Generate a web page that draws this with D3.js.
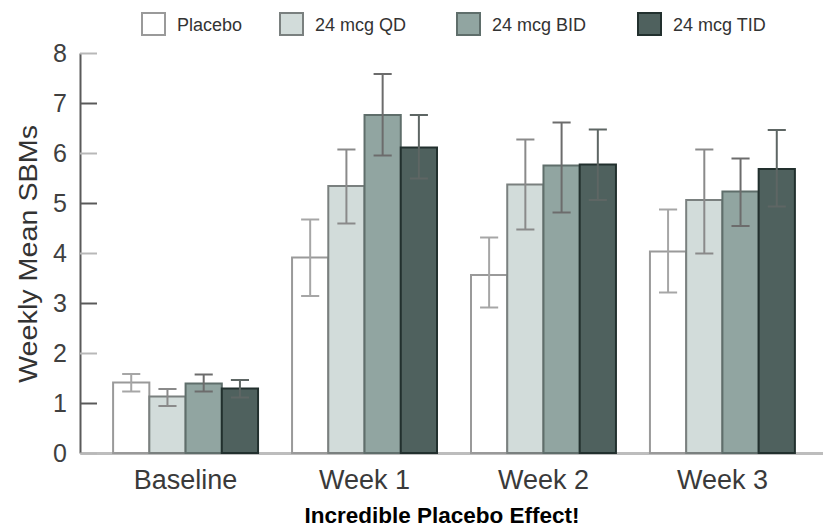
<!DOCTYPE html>
<html lang="en">
<head>
  <meta charset="UTF-8" />
  <title>Incredible Placebo Effect!</title>
  <script src="https://d3js.org/d3.v7.min.js"></script>
  <style>
    body {
      margin: 0;
      padding: 0;
      background: #ffffff;
    }
    svg {
      display: block;
      font-family: Arial, "Liberation Sans", sans-serif;
    }
  </style>
</head>
<body>
  <div id="chart"></div>

  <script>
    // Data
    const groups = ["Baseline", "Week 1", "Week 2", "Week 3"];
    const seriesNames = ["Placebo", "24 mcg QD", "24 mcg BID", "24 mcg TID"];

    // mean weekly SBMs, one row per series, one value per group
    const meanValues = [
      [1.41, 3.91, 3.56, 4.03],
      [1.13, 5.34, 5.37, 5.06],
      [1.39, 6.76, 5.75, 5.23],
      [1.29, 6.11, 5.77, 5.68]
    ];
    // error bar ends
    const lowValues = [
      [1.23, 3.14, 2.91, 3.21],
      [0.94, 4.59, 4.47, 3.99],
      [1.23, 5.95, 4.81, 4.54],
      [1.11, 5.49, 5.06, 4.93]
    ];
    const highValues = [
      [1.58, 4.67, 4.31, 4.87],
      [1.28, 6.07, 6.27, 6.07],
      [1.57, 7.58, 6.61, 5.89],
      [1.46, 6.76, 6.47, 6.46]
    ];
    const yTicks = [0, 1, 2, 3, 4, 5, 6, 7, 8];

    const width = 823, height = 529;

    const fills   = ["#ffffff", "#d2dcda", "#91a5a1", "#4f615e"];
    const strokes = ["#9a9a9a", "#7a807f", "#5f6e6b", "#22302e"];
    const errCols = ["#a6a6a6", "#8a8a8a", "#6c6c6c", "#5e6664"];

    const svg = d3.select("#chart")
      .append("svg")
      .attr("width", width)
      .attr("height", height);

    // scales
    const x0 = d3.scaleBand()
      .domain(groups)
      .range([80, 828])
      .paddingInner(0.19)
      .paddingOuter(0.185);

    const x1 = d3.scaleBand()
      .domain(seriesNames)
      .range([0, x0.bandwidth()])
      .padding(0);

    const y = d3.scaleLinear()
      .domain([0, 8])
      .range([453, 53]);

    // x axis (light baseline, big labels)
    const xAxis = svg.append("g")
      .attr("transform", `translate(0,${y(0)})`)
      .call(d3.axisBottom(x0).tickSize(0).tickPadding(17));
    xAxis.select(".domain")
      .attr("stroke", "#bdbdbd")
      .attr("stroke-width", 3);
    xAxis.selectAll("text")
      .attr("fill", "#3a3a3a")
      .style("font-size", "27px");

    // bars
    const rows = [];
    seriesNames.forEach((s, si) => {
      groups.forEach((g, gi) => {
        rows.push({
          group: g, series: s, si: si,
          mean: meanValues[si][gi],
          low: lowValues[si][gi],
          high: highValues[si][gi]
        });
      });
    });

    svg.append("g")
      .selectAll("rect")
      .data(rows)
      .enter()
      .append("rect")
      .attr("x", d => x0(d.group) + x1(d.series))
      .attr("y", d => y(d.mean))
      .attr("width", x1.bandwidth())
      .attr("height", d => y(0) - y(d.mean))
      .attr("fill", d => fills[d.si])
      .attr("stroke", d => strokes[d.si])
      .attr("stroke-width", 2);

    // error bars
    const capW = x1.bandwidth() / 2;
    const err = svg.append("g")
      .selectAll("g")
      .data(rows)
      .enter()
      .append("g")
      .attr("stroke", d => errCols[d.si])
      .attr("stroke-width", 2);

    err.append("line")
      .attr("x1", d => x0(d.group) + x1(d.series) + x1.bandwidth() / 2)
      .attr("x2", d => x0(d.group) + x1(d.series) + x1.bandwidth() / 2)
      .attr("y1", d => y(d.low))
      .attr("y2", d => y(d.high));

    ["low", "high"].forEach(k => {
      err.append("line")
        .attr("x1", d => x0(d.group) + x1(d.series) + x1.bandwidth() / 2 - capW / 2)
        .attr("x2", d => x0(d.group) + x1(d.series) + x1.bandwidth() / 2 + capW / 2)
        .attr("y1", d => y(d[k]))
        .attr("y2", d => y(d[k]));
    });

    // y axis, ticks pointing inward
    const yAxis = svg.append("g")
      .attr("transform", "translate(80,0)")
      .call(d3.axisLeft(y)
        .tickValues(yTicks)
        .tickFormat(d3.format("d"))
        .tickSizeInner(-17)
        .tickSizeOuter(0)
        .tickPadding(13));
    yAxis.select(".domain")
      .attr("stroke", "#5a5a5a")
      .attr("stroke-width", 2);
    yAxis.selectAll(".tick line")
      .attr("stroke", d => d % 2 === 0 ? "#b8b8b8" : "#5a5a5a")
      .attr("stroke-width", 2);
    yAxis.selectAll("text")
      .attr("fill", "#404040")
      .style("font-size", "25px");

    // y axis title
    svg.append("text")
      .attr("transform", "translate(37,254) rotate(-90)")
      .attr("text-anchor", "middle")
      .attr("fill", "#333333")
      .attr("textLength", 258)
      .attr("lengthAdjust", "spacingAndGlyphs")
      .style("font-size", "25px")
      .text("Weekly Mean SBMs");

    // legend
    const legendX = [142, 280, 457, 638];
    const legend = svg.append("g")
      .selectAll("g")
      .data(seriesNames)
      .enter()
      .append("g")
      .attr("transform", (d, i) => `translate(${legendX[i]},13)`);

    legend.append("rect")
      .attr("width", 23)
      .attr("height", 22)
      .attr("fill", (d, i) => fills[i])
      .attr("stroke", (d, i) => strokes[i])
      .attr("stroke-width", 2);

    legend.append("text")
      .attr("x", 35)
      .attr("y", 18)
      .attr("fill", "#333333")
      .style("font-size", "18px")
      .text(d => d);

    // caption
    svg.append("text")
      .attr("x", 442)
      .attr("y", 523)
      .attr("text-anchor", "middle")
      .attr("fill", "#000000")
      .style("font-size", "22.5px")
      .style("font-weight", "bold")
      .text("Incredible Placebo Effect!");
  </script>
</body>
</html>
